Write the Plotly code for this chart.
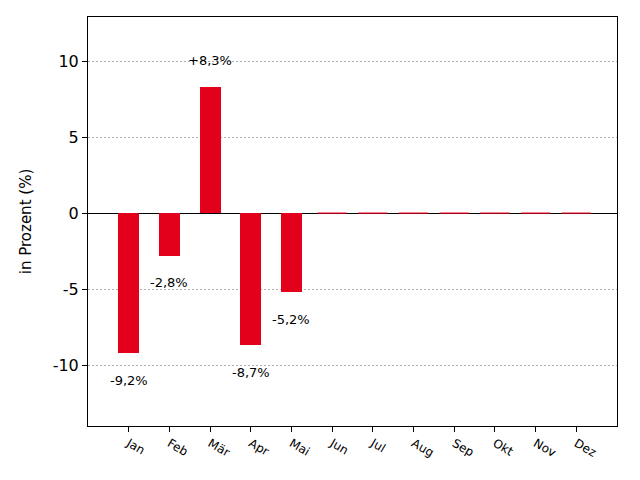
import plotly.graph_objects as go

months = ["Jan", "Feb", "Mär", "Apr", "Mai", "Jun", "Jul", "Aug", "Sep", "Okt", "Nov", "Dez"]
values = [-9.2, -2.8, 8.3, -8.7, -5.2, 0, 0, 0, 0, 0, 0, 0]
labels = ["-9,2%", "-2,8%", "+8,3%", "-8,7%", "-5,2%", "", "", "", "", "", "", ""]
yticks = [-10, -5, 0, 5, 10]
yticklabels = ["-10", "-5", "0", "5", "10"]

RED = "#E2001A"
xs = list(range(len(months)))

fig = go.Figure()
fig.add_trace(go.Bar(x=xs, y=values, width=0.52, marker=dict(color=RED, line=dict(width=0)),
                     showlegend=False, hoverinfo="skip"))
zx = [x for x, v in zip(xs, values) if v == 0]
zy = [v for v in values if v == 0]
fig.add_trace(go.Scatter(x=zx, y=zy, mode="markers",
                         marker=dict(symbol="line-ew", size=21, line=dict(color=RED, width=1.2)),
                         showlegend=False, hoverinfo="skip"))

for x, v, t in zip(xs, values, labels):
    if not t:
        continue
    fig.add_annotation(x=x, y=v, text=t, showarrow=False, yanchor="middle",
                       yshift=26 if v > 0 else -27,
                       font=dict(family="DejaVu Sans", size=13, color="black"))

fig.update_layout(
    width=640, height=480,
    margin=dict(l=88, r=23, t=17, b=54),
    paper_bgcolor="white", plot_bgcolor="white",
    font=dict(family="DejaVu Sans", color="black"),
    bargap=0,
)
fig.update_xaxes(range=[-1, 12], tickvals=xs, ticktext=months, tickangle=30,
                 ticks="outside", ticklen=5, tickwidth=1, tickcolor="black",
                 tickfont=dict(size=12), showgrid=False, zeroline=False,
                 showline=True, linecolor="black", linewidth=1, mirror=True)
fig.update_yaxes(range=[-14, 12.9], tickvals=yticks, ticktext=yticklabels,
                 ticks="outside", ticklen=5, tickwidth=1, tickcolor="black",
                 tickfont=dict(size=16), showgrid=True, gridcolor="#b0b0b0",
                 griddash="2px,2px", gridwidth=0.8,
                 zeroline=True, zerolinecolor="black", zerolinewidth=1,
                 showline=True, linecolor="black", linewidth=1, mirror=True,
                 title=dict(text="in Prozent (%)", font=dict(size=15), standoff=17))

fig.write_html("out.html")
